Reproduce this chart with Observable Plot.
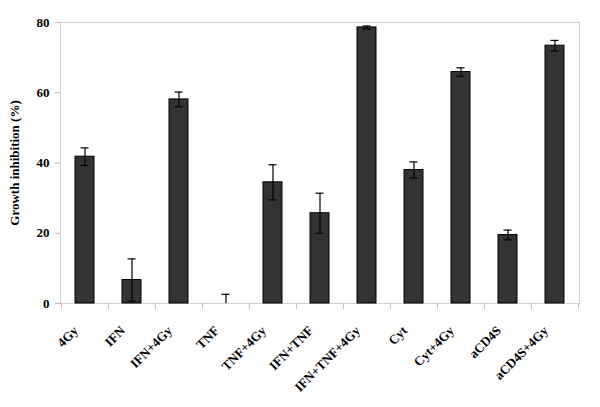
<!DOCTYPE html>
<html>
<head>
<meta charset="utf-8">
<script src="https://cdn.jsdelivr.net/npm/d3@7"></script>
<script src="https://cdn.jsdelivr.net/npm/@observablehq/plot@0.6"></script>
<style>
  html, body { margin: 0; padding: 0; background: #fff; }
  #chart svg { display: block; }
</style>
</head>
<body>
<div id="chart"></div>
<script>
const categories = ["4Gy", "IFN", "IFN+4Gy", "TNF", "TNF+4Gy", "IFN+TNF", "IFN+TNF+4Gy", "Cyt", "Cyt+4Gy", "aCD4S", "aCD4S+4Gy"];
const values = [41.8, 6.7, 58.1, 0, 34.5, 25.7, 78.6, 38.0, 65.9, 19.5, 73.4];
const errors = [2.5, 6.0, 2.1, 2.6, 5.0, 5.7, 0.4, 2.3, 1.2, 1.4, 1.5];
const yTicks = [0, 20, 40, 60, 80];
const yLabel = "Growth inhibition (%)";

const data = categories.map((c, i) => ({
  cat: c, v: values[i], lo: Math.max(0, values[i] - errors[i]), hi: values[i] + errors[i]
}));

const W = 600, H = 407, ML = 60, MR = 21, MT = 22, MB = 104;
const step = (W - ML - MR) / categories.length;
const font = "'Liberation Serif', 'Times New Roman', serif";

const chart = Plot.plot({
  width: W, height: H,
  marginLeft: ML, marginRight: MR, marginTop: MT, marginBottom: MB,
  style: { fontFamily: font, fontSize: "13px", fontWeight: "bold", color: "#000", background: "#fff" },
  x: { domain: categories, paddingInner: 0.59, paddingOuter: 0.295, align: 0.5 },
  y: { domain: [0, 80] },
  marks: [
    Plot.frame({ stroke: "#d0d0d0" }),
    Plot.barY(data, { x: "cat", y: "v", fill: "#333333", stroke: "#000", strokeWidth: 1 }),
    Plot.ruleX(data, { x: "cat", y1: "lo", y2: "hi", stroke: "#000", strokeWidth: 1.2 }),
    Plot.tickY(data, { x: "cat", y: "hi", stroke: "#000", strokeWidth: 1.2, insetLeft: 5.5, insetRight: 5.5 }),
    Plot.tickY(data.filter(d => d.lo > 0), { x: "cat", y: "lo", stroke: "#000", strokeWidth: 1.2, insetLeft: 5.5, insetRight: 5.5 }),
    // category boundary ticks below the axis
    Plot.ruleX(categories, { x: d => d, dx: -step / 2, y1: () => 0, y2: () => 0, insetBottom: -6, stroke: "#bbb" }),
    Plot.ruleX([categories[categories.length - 1]], { x: d => d, dx: step / 2, y1: () => 0, y2: () => 0, insetBottom: -6, stroke: "#bbb" }),
    Plot.axisY(yTicks, {
      tickSize: 5, tickPadding: 6, stroke: "#bbb", fill: "#000",
      fontSize: 13, fontWeight: "bold",
      label: null
    }),
    Plot.axisX({
      tickSize: 0, tickPadding: 18, tickRotate: -45, fill: "#000",
      fontSize: 13, fontWeight: "bold", label: null, dx: -9, dy: 7
    }),
    Plot.text([yLabel], {
      frameAnchor: "left", dx: -46, rotate: -90, text: d => d, textAnchor: "middle",
      fontSize: 13, fontWeight: "bold", fill: "#000"
    })
  ]
});

document.getElementById("chart").appendChild(chart);
</script>
</body>
</html>
